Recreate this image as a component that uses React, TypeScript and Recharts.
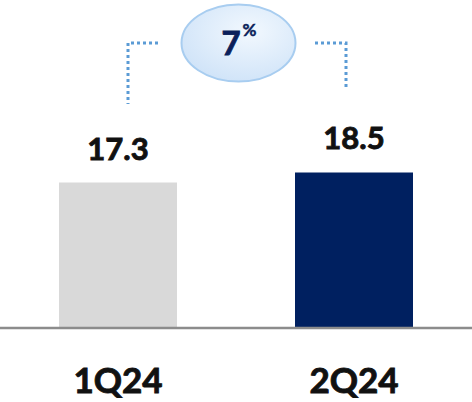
import { Bar, BarChart, Cell, LabelList, XAxis, YAxis } from "recharts";

const quarters = ["1Q24", "2Q24"];
const values = [17.3, 18.5];
const barColors = ["#d9d9d9", "#002060"];

const data = quarters.map((q, i) => ({ quarter: q, value: values[i] }));
const growth = Math.round((values[1] / values[0] - 1) * 100);

const font = "Lato, 'Open Sans', sans-serif";

function GrowthBubble() {
  return (
    <svg
      width={472}
      height={110}
      style={{ position: "absolute", left: 0, top: 0, pointerEvents: "none" }}
    >
      <defs>
        <radialGradient id="bubble" cx="60%" cy="35%" r="70%">
          <stop offset="0%" stopColor="#f2f8fe" />
          <stop offset="100%" stopColor="#cfe3f8" />
        </radialGradient>
      </defs>
      <g stroke="#5b9bd5" strokeWidth={3} strokeDasharray="3 3" fill="none">
        <polyline points="158,43 128,43 128,104" />
        <polyline points="315,43 346,43 346,88" />
      </g>
      <ellipse cx={238.5} cy={43} rx={57} ry={38.5} fill="url(#bubble)" stroke="#a8cdf0" strokeWidth={2} />
      <g fontFamily={font} fontWeight={700} fill="#0b1f5b" stroke="#0b1f5b" strokeWidth={0.9} textAnchor="middle">
        <text x={231} y={55} fontSize={33}>
          {growth}
        </text>
        <text x={249.5} y={36} fontSize={17} strokeWidth={0.5}>
          %
        </text>
      </g>
    </svg>
  );
}

const heavy = { fill: "#111", stroke: "#111", strokeWidth: 0.9 };

export default function App() {
  return (
    <div style={{ position: "absolute", left: 0, top: 0, width: 472, height: 402, background: "#fff" }}>
      <BarChart
        width={472}
        height={402}
        data={data}
        margin={{ top: 0, right: 0, bottom: 44, left: 0 }}
        barCategoryGap="25%"
      >
        <XAxis
          dataKey="quarter"
          height={30}
          axisLine={{ stroke: "#8c8c8c", strokeWidth: 2.5 }}
          tickLine={false}
          tickSize={0}
          tickMargin={40}
          tick={{ fontFamily: font, fontWeight: 700, fontSize: 35, ...heavy }}
        />
        <YAxis hide domain={[0, 39]} />
        <Bar dataKey="value" isAnimationActive={false}>
          {data.map((d, i) => (
            <Cell key={d.quarter} fill={barColors[i]} />
          ))}
          <LabelList
            dataKey="value"
            position="top"
            offset={23}
            style={{ fontFamily: font, fontWeight: 700, fontSize: 31, ...heavy }}
          />
        </Bar>
      </BarChart>
      <GrowthBubble />
    </div>
  );
}
